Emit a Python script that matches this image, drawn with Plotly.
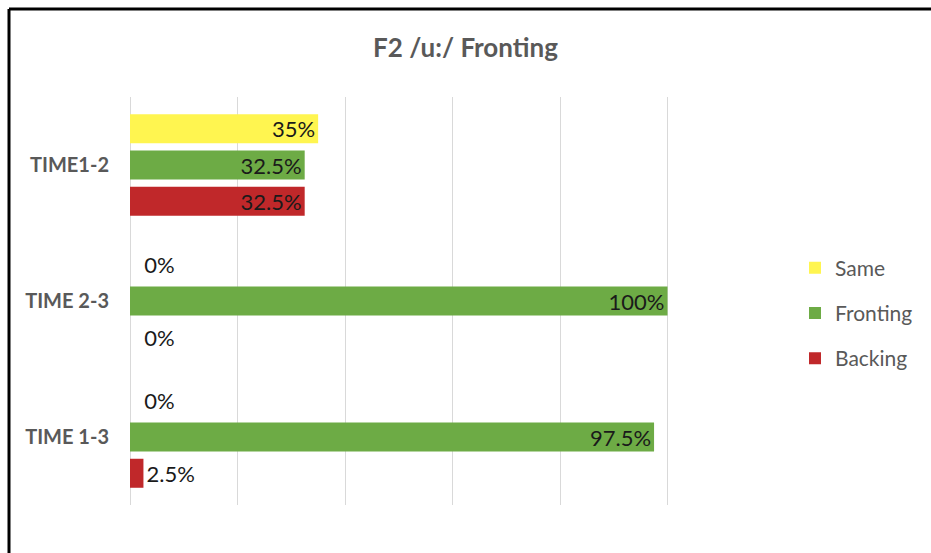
import plotly.graph_objs as go

categories = ['TIME1-2', 'TIME 2-3', 'TIME 1-3']
same = [35, 0, 0]
fronting = [32.5, 100, 97.5]
backing = [32.5, 0, 2.5]

series = [
	('Same', same, '#FFF550'),
	('Fronting', fronting, '#6DAB45'),
	('Backing', backing, '#C0282A'),
]

plots = []
for name, values, colour in series:
	plots.append(go.Bar(
		y=categories,
		x=values,
		name=name,
		orientation='h',
		legendgroup=name,
		marker=dict(color=colour, line=dict(width=0)),
		# zero bars get a little padding so the label sits off the axis line
		texttemplate=['\u00a0\u00a0%{x}%' if v == 0 else '%{x}%' for v in values],
		textposition=['inside' if v >= 10 else 'outside' for v in values],
		insidetextanchor='end',
		constraintext='none',
		textfont=dict(color='#1a1a1a', size=22),
		insidetextfont=dict(color='#1a1a1a', size=22),
		outsidetextfont=dict(color='#1a1a1a', size=22),
		cliponaxis=False,
	))

# plot area spans pixels x 130..775, y 97..505
L, R, T, B = 130, 156, 97, 48
W, H = 931, 553
pw, ph = W - L - R, H - T - B

def px(x):
	return (x - L) / pw

def py(y):
	return (H - B - y) / ph

graph_layout = go.Layout(
	width=W,
	height=H,
	margin=dict(l=L, r=R, t=T, b=B),
	paper_bgcolor='white',
	plot_bgcolor='white',
	font=dict(family='Lato, Open Sans, sans-serif', color='#595959'),
	title=dict(
		text='<b>F2 /u:/ Fronting</b>',
		x=0.5,
		xanchor='center',
		y=1 - 48 / H,
		yanchor='middle',
		font=dict(size=26, color='#595959'),
	),
	xaxis=dict(
		range=[0, 120],
		dtick=20,
		showticklabels=False,
		showgrid=True,
		gridcolor='#D9D9D9',
		gridwidth=1,
		zeroline=True,
		zerolinecolor='#D9D9D9',
		zerolinewidth=1,
		showline=False,
		fixedrange=True,
	),
	yaxis=dict(
		autorange='reversed',
		tickfont=dict(size=20, color='#595959'),
		tickprefix='<b>',
		ticksuffix='</b>',
		ticklabelstandoff=20,
		showgrid=False,
		showline=False,
		ticks='',
	),
	barmode='group',
	bargap=0.2,
	bargroupgap=0.2,
	legend=dict(
		x=px(795),
		xanchor='left',
		y=py(313),
		yanchor='middle',
		font=dict(size=21, color='#595959'),
		tracegroupgap=15,
		bgcolor='rgba(0,0,0,0)',
	),
	showlegend=True,
	shapes=[
		dict(type='line', xref='paper', yref='paper', x0=px(9), x1=px(931), y0=py(9), y1=py(9),
			line=dict(color='black', width=3)),
		dict(type='line', xref='paper', yref='paper', x0=px(9), x1=px(9), y0=py(9), y1=py(553),
			line=dict(color='black', width=3)),
	],
)

figure = go.Figure(plots, graph_layout)
figure.write_html('out.html', config=dict(displayModeBar=False),
	post_script="document.body.style.margin='0';")
